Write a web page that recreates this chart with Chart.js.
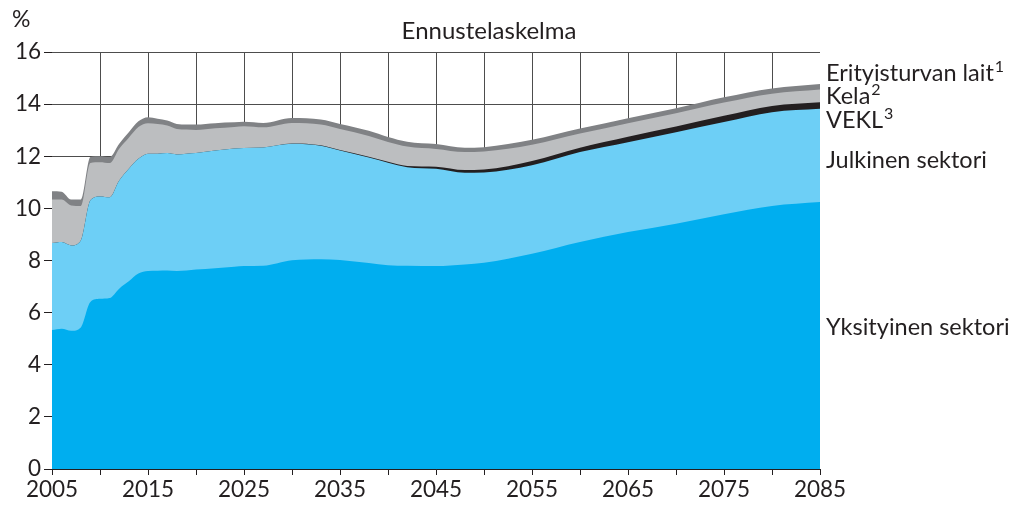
<!DOCTYPE html>
<html>
<head>
<meta charset="utf-8">
<script src="https://cdn.jsdelivr.net/npm/chart.js@4.4.1/dist/chart.umd.min.js"></script>
<style>
  html, body { margin: 0; padding: 0; background: #fff; }
  #wrap { width: 1014px; height: 506px; position: relative; }
</style>
</head>
<body>
<div id="wrap"><canvas id="chart"></canvas></div>
<script>
// years and series (% of wage sum)
const years = [2005, 2006, 2007, 2008, 2009, 2010, 2011, 2012, 2013, 2014, 2015, 2016, 2017, 2018, 2019, 2020,
  2022, 2024, 2025, 2027, 2030, 2033, 2035, 2038, 2040, 2042, 2045, 2048, 2050, 2055, 2060, 2065, 2070, 2075, 2080, 2085];

const yksityinen = [5.33, 5.38, 5.30, 5.43, 6.41, 6.53, 6.56, 6.92, 7.20, 7.50, 7.60, 7.61, 7.62, 7.60, 7.62, 7.65,
  7.70, 7.76, 7.79, 7.80, 8.01, 8.05, 8.02, 7.90, 7.82, 7.80, 7.79, 7.85, 7.91, 8.26, 8.71, 9.09, 9.41, 9.77, 10.09, 10.24];

const julkinen = [3.34, 3.33, 3.28, 3.34, 3.90, 3.93, 3.87, 4.15, 4.32, 4.40, 4.50, 4.49, 4.50, 4.47, 4.48, 4.47,
  4.52, 4.54, 4.53, 4.54, 4.47, 4.35, 4.20, 4.05, 3.93, 3.78, 3.73, 3.52, 3.47, 3.39, 3.45, 3.45, 3.51, 3.54, 3.60, 3.58];

const vekl = [0, 0, 0, 0, 0, 0, 0, 0, 0, 0, 0, 0, 0, 0, 0, 0,
  0, 0, 0, 0, 0.01, 0.02, 0.02, 0.03, 0.04, 0.05, 0.08, 0.10, 0.11, 0.17, 0.17, 0.21, 0.22, 0.24, 0.24, 0.25];

const kela = [1.67, 1.63, 1.53, 1.32, 1.43, 1.31, 1.31, 1.22, 1.19, 1.22, 1.17, 1.14, 1.06, 0.98, 0.93, 0.89,
  0.85, 0.82, 0.83, 0.77, 0.79, 0.80, 0.81, 0.80, 0.76, 0.74, 0.68, 0.69, 0.69, 0.62, 0.54, 0.52, 0.51, 0.51, 0.47, 0.49];

const erityis = [0.32, 0.30, 0.23, 0.25, 0.23, 0.23, 0.23, 0.19, 0.21, 0.22, 0.23, 0.20, 0.19, 0.19, 0.19, 0.21,
  0.20, 0.18, 0.17, 0.17, 0.19, 0.19, 0.19, 0.20, 0.19, 0.19, 0.19, 0.17, 0.17, 0.19, 0.19, 0.19, 0.19, 0.20, 0.20, 0.21];

const FONT = 'Lato, "Noto Sans", sans-serif';
const TXT = '#231f20';

function series(label, values, color) {
  return {
    label: label,
    data: values.map((v, i) => ({ x: years[i], y: v })),
    backgroundColor: color,
    borderWidth: 0,
    pointRadius: 0,
    fill: 'origin',
    cubicInterpolationMode: 'monotone'
  };
}

// texts around the plot: unit, heading and the series names at the right
const textPlugin = {
  id: 'texts',
  afterDraw(chart) {
    const ctx = chart.ctx;
    ctx.save();
    ctx.fillStyle = TXT;
    ctx.textBaseline = 'alphabetic';

    ctx.font = '23px ' + FONT;
    ctx.textAlign = 'left';
    ctx.fillText('%', 12, 27);
    ctx.font = '24px ' + FONT;
    ctx.textAlign = 'center';
    ctx.fillText('Ennustelaskelma', 489, 39);

    ctx.textAlign = 'left';
    const x = chart.chartArea.right + 6;
    const labels = [
      ['Erityisturvan lait', '1', 81],
      ['Kela', '2', 104],
      ['VEKL', '3', 128],
      ['Julkinen sektori', '', 168],
      ['Yksityinen sektori', '', 335]
    ];
    labels.forEach(([t, sup, y]) => {
      ctx.font = '23.5px ' + FONT;
      ctx.fillText(t, x, y);
      if (sup) {
        const w = ctx.measureText(t).width;
        ctx.font = '16px ' + FONT;
        ctx.fillText(sup, x + w + 1, y - 9);
      }
    });
    ctx.restore();
  }
};

const hideEdges = (c) => (c.tick && (c.tick.value === 2005 || c.tick.value === 2085)) ? 'rgba(0,0,0,0)' : '#4d4d4d';

new Chart(document.getElementById('chart').getContext('2d'), {
  type: 'line',
  data: {
    datasets: [
      series('Yksityinen sektori', yksityinen, '#00aeef'),
      series('Julkinen sektori', julkinen, '#6dcff6'),
      series('VEKL', vekl, '#231f20'),
      series('Kela', kela, '#bcbec0'),
      series('Erityisturvan lait', erityis, '#808285')
    ]
  },
  options: {
    responsive: true,
    maintainAspectRatio: false,
    animation: false,
    layout: { padding: { top: 52, right: 194, left: 0, bottom: 0 } },
    plugins: {
      legend: { display: false },
      tooltip: { enabled: false }
    },
    scales: {
      x: {
        type: 'linear',
        min: 2005,
        max: 2085,
        afterFit: (s) => { s.height = 37; },
        border: { display: true, color: '#231f20', width: 1 },
        grid: { color: hideEdges, tickColor: '#231f20', tickLength: 6, lineWidth: 1 },
        ticks: {
          stepSize: 5,
          autoSkip: false,
          maxRotation: 0,
          padding: 1,
          color: TXT,
          font: { family: FONT, size: 22.5 },
          callback: (v) => ((v - 2005) % 10 === 0 ? String(v) : '')
        }
      },
      y: {
        stacked: true,
        min: 0,
        max: 16,
        afterFit: (s) => { s.width = 52; },
        border: { display: false },
        grid: { color: '#4d4d4d', tickColor: '#231f20', tickLength: 8, lineWidth: 1 },
        ticks: {
          stepSize: 2,
          padding: 3,
          color: TXT,
          font: { family: FONT, size: 22.5 }
        }
      }
    }
  },
  plugins: [textPlugin]
});
</script>
</body>
</html>
